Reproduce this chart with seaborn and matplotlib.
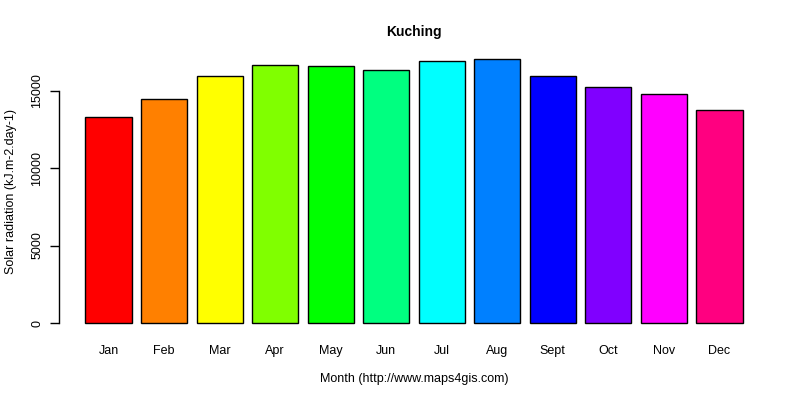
import seaborn as sns
import matplotlib.pyplot as plt
import pandas as pd

months = ["Jan", "Feb", "Mar", "Apr", "May", "Jun",
          "Jul", "Aug", "Sept", "Oct", "Nov", "Dec"]
radiation = [13270, 14430, 15910, 16620, 16570, 16300,
             16880, 17010, 15910, 15200, 14750, 13720]
colors = ["#FF0000", "#FF8000", "#FFFF00", "#80FF00", "#00FF00", "#00FF80",
          "#00FFFF", "#0080FF", "#0000FF", "#8000FF", "#FF00FF", "#FF0080"]

df = pd.DataFrame({"month": months, "radiation": radiation})

sns.set_theme(style="white")
plt.rcParams["font.family"] = ["Liberation Sans", "DejaVu Sans"]
plt.rcParams["text.color"] = "black"
plt.rcParams["axes.labelcolor"] = "black"
plt.rcParams["xtick.color"] = "black"
plt.rcParams["ytick.color"] = "black"

fig = plt.figure(figsize=(8, 4), dpi=100)
ax = fig.add_axes([0.074, 0.166, 0.887, 0.712])

sns.barplot(data=df, x="month", y="radiation", hue="month", palette=colors,
            width=1 / 1.2, saturation=1, edgecolor="black", linewidth=1,
            legend=False, ax=ax)

top = max(radiation)
ax.set_ylim(-0.04 * top, 1.04 * top)
ax.set_xlim(-0.89, 11.89)

for side in ["top", "right", "bottom"]:
    ax.spines[side].set_visible(False)
ax.spines["left"].set_color("black")
ax.spines["left"].set_linewidth(1)
ax.spines["left"].set_bounds(0, 15000)

ax.set_yticks([0, 5000, 10000, 15000])
ax.set_yticklabels(["0", "5000", "10000", "15000"], rotation=90, va="center")
ax.tick_params(axis="y", length=6.5, width=1, color="black", pad=5,
               labelsize=9, left=True)
ax.tick_params(axis="x", length=0, pad=8.5, labelsize=9)

ax.set_title("Kuching", fontsize=10, fontweight="bold", pad=9, color="black")
ax.set_xlabel("Month (http://www.maps4gis.com)", fontsize=9, labelpad=11)
ax.set_ylabel("Solar radiation (kJ.m-2.day-1)", fontsize=9, labelpad=10)

fig.savefig("out.png", dpi=100, facecolor="white")
